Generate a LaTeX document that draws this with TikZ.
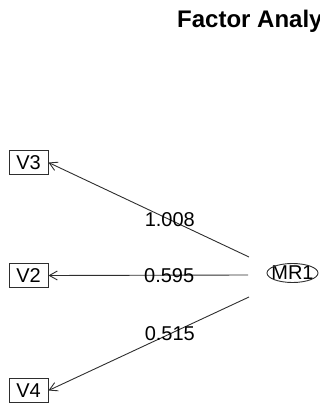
\documentclass[tikz,border=0pt]{standalone}
\usepackage{fontspec}
\setmainfont{Liberation Sans}
\usetikzlibrary{arrows.meta}
\definecolor{edge}{HTML}{2E2E2E}
\tikzset{
  varbox/.style={draw=edge, line width=0.9pt, minimum width=39pt, minimum height=24pt,
                 inner sep=0pt, font=\fontsize{20}{24}\selectfont},
  factor/.style={inner sep=0pt, font=\fontsize{20}{24}\selectfont},
  outline/.style={draw=edge, line width=0.9pt},
  loading/.style={draw=edge, line width=0.9pt,
                  -{Straight Barb[length=8pt,width=9pt,line width=0.9pt]}},
  weight/.style={font=\fontsize{20}{24}\selectfont, inner sep=0pt, pos=0.395},
  heading/.style={font=\fontsize{24}{28}\selectfont\bfseries, anchor=base west, inner sep=0pt}
}
\begin{document}
\begin{tikzpicture}[x=1pt, y=-1pt]
  \useasboundingbox (0,0) rectangle (320,403);
  \clip (0,0) rectangle (320,403);

  % title, running past the right border
  \node[heading] (title) at (177,28) {Factor Analysis};

  % observed variables
  \node[varbox] (V3) at (28.5,162.5) {V3};
  \node[varbox] (V2) at (28.5,275.5) {V2};
  \node[varbox] (V4) at (28.5,390.5) {V4};

  % latent factor with its flat outline
  \node[factor] (MR1) at (292.5,273) {MR1};
  \draw[outline] (MR1.center) ellipse [x radius=25.5, y radius=9.5];

  % arrow origins next to the factor
  \coordinate (s3) at (249,257);
  \coordinate (s2) at (248,275);
  \coordinate (s4) at (249,297);

  % loadings
  \draw[loading] (s3) -- node[weight] (w3) {1.008} (V3.east);
  \draw[loading] (s2) -- node[weight] (w2) {0.595} (V2.east);
  \draw[loading] (s4) -- node[weight] (w4) {0.515} (V4.east);
\end{tikzpicture}
\end{document}
